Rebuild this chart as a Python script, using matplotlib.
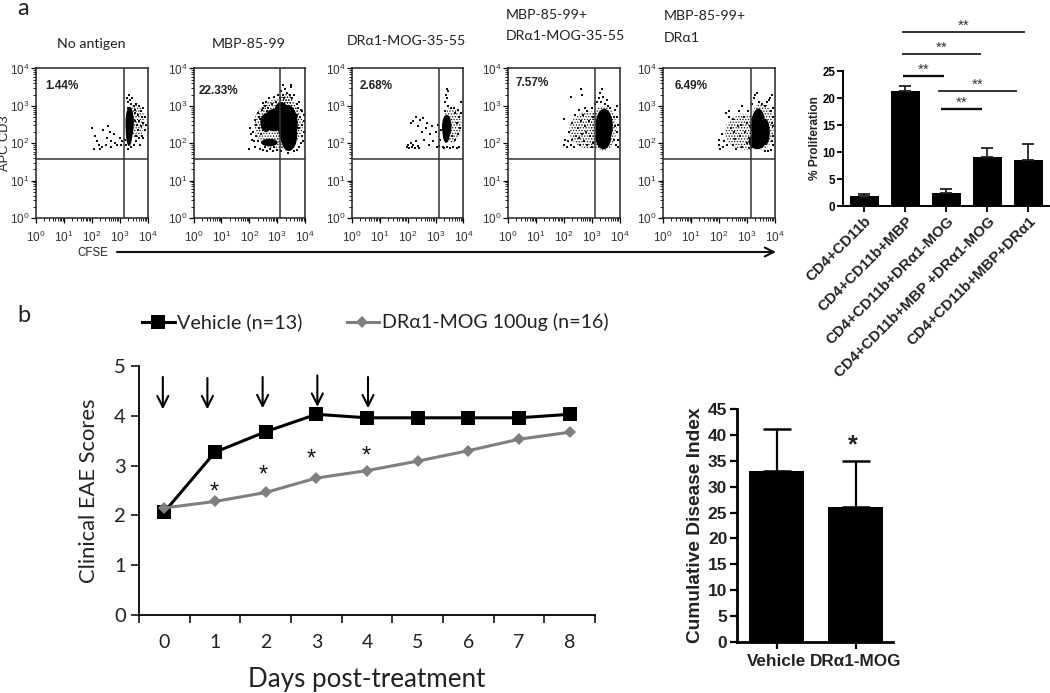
import matplotlib
matplotlib.use("Agg")
import matplotlib.pyplot as plt
from matplotlib.patches import Ellipse
from matplotlib.transforms import ScaledTranslation

W, H = 1050, 693
SANS = "Liberation Sans"
HUM = "Lato"
plt.rcParams["hatch.linewidth"] = 0.6

# ---------- panel a: flow plots (values are log10 decades)
flow_titles = ["No antigen", "MBP-85-99", "DR\u03b11-MOG-35-55",
               "MBP-85-99+\nDR\u03b11-MOG-35-55", "MBP-85-99+\nDR\u03b11"]
flow_pcts = ["1.44%", "22.33%", "2.68%", "7.57%", "6.49%"]
gate_x = [3.14, 3.12, 3.13, 3.13, 3.15]
gate_y = 1.58

# ellipse x, y, width, height, solid (1) or stippled (0)
core_1 = [(3.36, 2.55, 0.30, 0.85, 1), (3.34, 2.35, 0.24, 0.85, 1), (3.58, 2.6, 0.62, 0.95, 0)]
core_2 = [(3.05, 2.5, 1.75, 1.35, 0), (3.35, 2.55, 0.85, 1.5, 0), (3.38, 2.5, 0.72, 1.05, 1), (3.42, 2.22, 0.6, 0.85, 1),
          (2.9, 2.62, 0.75, 0.6, 1), (3.15, 2.85, 0.5, 0.5, 1), (2.6, 2.55, 0.4, 0.5, 1), (2.72, 2.02, 0.6, 0.2, 1),
          (3.3, 3.1, 0.45, 0.5, 0)]
core_3 = [(3.4, 2.45, 0.34, 0.62, 1), (3.38, 2.3, 0.26, 0.58, 1), (3.6, 2.5, 0.65, 0.95, 0)]
core_4 = [(2.95, 2.35, 1.5, 1.0, 0), (3.42, 2.4, 0.95, 1.2, 0), (3.45, 2.45, 0.62, 0.95, 1), (3.42, 2.15, 0.55, 0.62, 1)]
core_5 = [(2.95, 2.3, 1.45, 0.95, 0), (3.55, 2.45, 0.85, 1.25, 0), (3.42, 2.45, 0.52, 0.95, 1),
          (3.38, 2.05, 0.62, 0.42, 1), (3.68, 2.3, 0.3, 0.7, 1)]

dots_1 = [(2.0,2.42),(2.08,1.85),(2.1,2.2),(2.2,2.05),(2.3,1.85),(2.25,1.95),(2.35,1.9),(2.4,2.35),
          (2.5,1.95),(2.55,2.15),(2.6,2.45),(2.7,2.05),(2.7,1.9),(2.8,2.25),(2.85,2.0),(2.65,2.3),
          (2.9,1.95),(3.0,2.15),(3.05,1.95),(3.1,2.05),(3.2,2.1),(3.22,1.95),(3.3,1.85),(3.4,1.9),
          (3.5,1.95),(3.25,3.2),(3.3,3.1),(3.35,3.3),(3.4,3.05),(3.45,3.2),(3.3,2.95),(3.5,3.0),
          (3.38,3.15),(3.6,3.05),(3.55,2.9),(3.7,3.0),(3.75,2.85),(3.85,2.95),(3.65,2.75),(3.8,2.7),
          (3.9,2.7),(3.7,2.6),(3.85,2.55),(3.95,2.5),(3.75,2.45),(3.65,2.35),(3.9,2.35),(3.8,2.2),
          (3.7,2.15),(3.6,2.05),(3.72,1.95),(3.55,2.6),(3.6,2.2),(3.85,2.15),(3.55,2.8),(3.62,2.5)]
dots_2 = [(2.0,1.85),(2.02,2.42),(2.1,2.1),(2.15,2.3),(2.2,1.9),(2.25,2.5),(2.3,2.05),(2.35,2.7),
          (2.4,1.85),(2.42,2.25),(2.45,2.9),(2.5,1.82),(2.5,2.55),(2.55,3.0),(2.6,3.1),(2.65,1.8),
          (2.68,2.95),(2.72,3.2),(2.8,3.05),(2.85,1.8),(2.9,3.25),(2.95,3.1),(3.0,1.82),(3.02,3.3),
          (3.1,3.2),(3.15,1.78),(3.15,3.4),(3.2,3.3),(3.25,3.2),(3.3,3.45),(3.35,3.35),(3.4,1.75),
          (3.45,3.3),(3.5,3.5),(3.55,3.2),(3.6,3.3),(3.7,3.05),(3.75,2.95),(3.8,3.1),(3.85,2.9),
          (3.9,2.85),(3.95,2.75),(3.95,2.6),(3.9,2.5),(3.95,2.3),(3.88,2.2),(3.92,2.05),(3.85,2.0),
          (3.8,1.9),(3.7,1.82),(3.6,1.78),(3.78,2.4),(3.82,2.7),(3.72,2.75),(2.2,2.62),(2.3,2.8),
          (2.4,2.65),(2.48,2.95),(2.55,1.9),(2.62,2.85),(2.75,1.85),(2.9,1.9),(3.0,3.0),(2.25,2.2),
          (2.18,2.05),(2.35,2.42),(2.05,2.25),(2.5,3.08),(3.2,3.55),(3.48,3.55)]
dots_3 = [(1.97,1.9),(2.02,1.95),(2.05,1.87),(2.1,2.0),(2.15,1.9),(2.2,1.95),(2.25,1.87),(2.3,2.05),
          (2.35,1.92),(2.4,1.88),(2.12,2.55),(2.2,2.6),(2.3,2.7),(2.38,2.45),(2.45,2.62),(2.5,2.3),
          (2.55,2.68),(2.6,2.1),(2.65,2.4),(2.7,2.55),(2.75,1.95),(2.8,2.25),(2.88,2.45),(2.92,2.05),
          (3.0,2.3),(3.04,1.9),(3.08,2.5),(3.15,2.1),(3.12,1.92),(3.18,2.35),(3.25,1.9),(3.3,1.87),
          (3.4,1.9),(3.5,1.88),(3.62,1.9),(3.75,1.87),(3.85,1.9),(3.7,2.1),(3.8,2.25),(3.88,2.4),
          (3.6,2.2),(3.75,2.55),(3.85,2.7),(3.9,2.8),(3.7,2.8),(3.8,2.9),(3.55,2.95),(3.65,2.95),
          (3.45,3.0),(3.35,3.1),(3.42,3.2),(3.38,3.3),(3.45,3.4),(3.4,3.45),(3.35,2.85),(3.9,3.1)]
dots_4 = [(2.0,1.95),(2.02,2.65),(2.05,2.1),(2.1,1.9),(2.15,2.05),(2.2,2.3),(2.25,1.95),(2.3,2.1),
          (2.3,2.55),(2.38,1.9),(2.4,2.75),(2.45,2.2),(2.5,2.4),(2.55,2.9),(2.6,1.95),(2.62,2.6),
          (2.65,2.25),(2.7,2.75),(2.72,2.05),(2.75,2.95),(2.78,2.45),(2.85,1.95),(2.85,2.85),(2.9,2.6),
          (2.95,2.2),(3.0,2.95),(3.0,1.9),(3.05,2.7),(2.65,3.3),(2.62,3.45),(2.25,3.25),(3.12,3.05),
          (3.18,3.1),(3.25,3.2),(3.3,3.35),(3.35,3.1),(3.42,3.25),(3.48,3.05),(3.55,3.15),(3.6,3.0),
          (3.38,3.45),(3.65,2.95),(3.85,2.9),(3.9,2.7),(3.95,2.5),(3.92,2.3),(3.95,2.1),(3.88,1.95),
          (3.95,1.9),(3.82,2.1),(3.85,2.45),(3.82,2.7),(3.9,3.0),(3.05,2.0),(2.8,2.3),(2.55,2.15)]
dots_5 = [(2.0,1.95),(2.02,2.1),(2.05,1.85),(2.1,2.25),(2.15,1.9),(2.2,2.05),(2.25,2.8),(2.28,1.95),
          (2.35,2.7),(2.38,2.85),(2.45,2.4),(2.5,2.65),(2.5,1.95),(2.55,2.3),(2.6,2.12),(2.62,1.85),
          (2.7,2.45),(2.72,2.85),(2.75,2.2),(2.8,2.5),(2.85,3.0),(2.85,1.9),(2.9,2.7),(2.95,2.3),
          (3.0,2.55),(3.02,2.0),(3.05,2.85),(3.1,2.15),(3.12,2.45),(3.08,1.88),(3.2,3.05),(3.25,3.2),
          (3.3,3.3),(3.38,3.35),(3.45,3.1),(3.55,3.05),(3.65,3.0),(3.72,3.1),(3.8,3.15),(3.85,3.2),
          (3.92,3.3),(3.95,2.95),(3.95,2.7),(3.95,2.45),(3.95,2.2),(3.93,1.95),(3.88,1.82),(3.78,1.8),
          (3.65,1.78),(3.88,2.85),(3.9,2.55),(3.9,2.05)]
flow_cores = [core_1, core_2, core_3, core_4, core_5]
flow_dots = [dots_1, dots_2, dots_3, dots_4, dots_5]
flow_lefts = [36, 193.5, 352, 508, 663]
flow_title_xy = [(57, 38), (212, 38), (347, 35), (506, 9), (664, 10)]
flow_pct_xy = [(45, 80), (199, 85), (360, 80), (515, 77), (675, 80)]
flow_ticks = [0, 1, 2, 3, 4]
minor_steps = [0.301, 0.477, 0.602, 0.699, 0.778, 0.845, 0.903, 0.954]

# ---------- panel a: proliferation bars
prolif_labels = ["CD4+CD11b", "CD4+CD11b+MBP", "CD4+CD11b+DR\u03b11-MOG",
                 "CD4+CD11b+MBP +DR\u03b11-MOG", "CD4+CD11b+MBP+DR\u03b11"]
prolif_vals = [1.8, 21.3, 2.4, 9.0, 8.5]
prolif_errs = [0.35, 0.9, 0.8, 1.7, 3.0]

# ---------- panel b: EAE scores
days = [0, 1, 2, 3, 4, 5, 6, 7, 8]
vehicle = [2.07, 3.27, 3.68, 4.03, 3.96, 3.96, 3.96, 3.96, 4.03]
dr_mog = [2.15, 2.28, 2.46, 2.75, 2.90, 3.09, 3.30, 3.53, 3.67]
star_days = [1.0, 1.97, 2.92, 4.0]
star_scores = [2.52, 2.87, 3.2, 3.26]
arrow_days = [-0.03, 0.85, 1.94, 3.02, 4.02]
arrow_tops = [4.78, 4.76, 4.78, 4.81, 4.78]
arrow_tips = [4.13, 4.13, 4.15, 4.18, 4.15]

# ---------- panel b: cumulative index
cdi_labels = ["Vehicle", "DR\u03b11-MOG"]
cdi_vals = [33.0, 26.0]
cdi_errs = [8.2, 9.0]

fig = plt.figure(figsize=(W / 100, H / 100), dpi=100)


def axes_px(x0, y0, x1, y1, **kw):
    return fig.add_axes([x0 / W, 1 - y1 / H, (x1 - x0) / W, (y1 - y0) / H], **kw)


ov = axes_px(0, 0, W, H, zorder=10)
ov.set_xlim(0, W)
ov.set_ylim(H, 0)
ov.axis("off")

for i in range(5):
    left = flow_lefts[i]
    ax = axes_px(left, 68.5, left + 111.5, 218)
    ax.set_xlim(0, 4)
    ax.set_ylim(0, 4)
    for el in flow_cores[i]:
        if el[4]:
            ax.add_patch(Ellipse((el[0], el[1]), el[2], el[3], fc="black", ec="none", zorder=2))
        else:
            ax.add_patch(Ellipse((el[0], el[1]), el[2], el[3], fc="none", ec="#111111", lw=0,
                                 hatch="......", zorder=1))
    ax.scatter([d[0] for d in flow_dots[i]], [d[1] for d in flow_dots[i]], s=2.2,
               c="#111111", marker="s", linewidths=0, zorder=2)
    ax.axvline(gate_x[i], color="#333333", lw=1.1, zorder=3)
    ax.axhline(gate_y, color="#333333", lw=1.1, zorder=3)
    labels = [f"$\\mathregular{{10^{{{t}}}}}$" for t in flow_ticks]
    ax.set_xticks(flow_ticks, labels, fontsize=8.5, color="#333333", family=SANS)
    ax.set_yticks(flow_ticks, labels, fontsize=8.5, color="#333333", family=SANS)
    minors = [t + m for t in flow_ticks[:-1] for m in minor_steps]
    ax.set_xticks(minors, minor=True)
    ax.set_yticks(minors, minor=True)
    ax.tick_params(which="major", length=3.5, width=0.9, pad=5)
    ax.tick_params(axis="y", which="major", pad=1)
    ax.tick_params(which="minor", length=2, width=0.6)
    for s in ax.spines.values():
        s.set_linewidth(1.1)
        s.set_color("#222222")
    tx, ty = flow_title_xy[i]
    ov.text(tx, ty, flow_titles[i], family=HUM, fontsize=10.2, color="#222222", va="top", ha="left",
            linespacing=1.95)
    px, py = flow_pct_xy[i]
    ov.text(px, py, flow_pcts[i], family=SANS, fontsize=8.5, weight="bold", color="#222222",
            va="top", ha="left")

ov.text(17, 15, "a", family=HUM, fontsize=17, color="#222222", ha="left", va="baseline")
ov.text(17, 322, "b", family=HUM, fontsize=17, color="#222222", ha="left", va="baseline")
ov.text(5, 143, "APC CD3", family=SANS, fontsize=9.3, rotation=90, ha="center", va="center", color="#222222")
ov.text(77, 253, "CFSE", family=SANS, fontsize=8.3, ha="left", va="center", color="#222222")
ov.annotate("", xy=(776, 252), xytext=(117, 252),
            arrowprops=dict(arrowstyle="->", lw=1.5, color="#111111", mutation_scale=16,
                            shrinkA=0, shrinkB=0))

# proliferation bars
ax = axes_px(843, 71, 1049, 206)
xs = list(range(5))
ax.bar(xs, prolif_vals, width=0.71, color="black",
       yerr=[[0] * 5, prolif_errs], ecolor="#222222",
       error_kw=dict(capsize=4.5, elinewidth=1.3, capthick=1.3))
ax.set_xlim(-0.52, 4.5)
ax.set_ylim(0, 25)
ax.set_yticks([0, 5, 10, 15, 20, 25])
ax.set_xticks(xs)
ax.set_xticklabels(prolif_labels, rotation=45, ha="right", rotation_mode="anchor",
                   family=SANS, fontsize=10.8, weight="bold", color="#222222")
ax.set_ylabel("% Proliferation", family=SANS, fontsize=8.6, weight="bold", color="#222222", labelpad=1)
ax.tick_params(axis="y", length=4, width=1.3, labelsize=8.3, pad=1.5)
ax.tick_params(axis="x", length=4, width=1.3, pad=2)
for t in ax.get_yticklabels():
    t.set_family(SANS)
    t.set_weight("bold")
for s in ("top", "right"):
    ax.spines[s].set_visible(False)
for s in ("left", "bottom"):
    ax.spines[s].set_linewidth(1.4)

sig_x0 = [902, 902, 903, 938, 941]
sig_x1 = [1025, 981, 944, 1017, 982]
sig_y = [32, 54, 76, 91, 109]
sig_lw = [1.2, 1.2, 1.7, 1.2, 1.7]
for a, b, y, lw in zip(sig_x0, sig_x1, sig_y, sig_lw):
    ov.plot([a, b], [y, y], color="#111111", lw=lw, solid_capstyle="butt")
    ov.text((a + b) / 2, y - 6, "**", family=SANS, fontsize=11, ha="center", va="center",
            color="#333333")

# EAE line chart
ax = axes_px(139, 366, 595, 615)
ax.plot(days, vehicle, color="black", lw=2.2, marker="s", ms=9.5, mew=0, label="Vehicle (n=13)")
ax.plot(days, dr_mog, color="#7f7f7f", lw=2.2, marker="D", ms=6.3, mew=0, label="DR\u03b11-MOG 100ug (n=16)")
ax.set_xlim(-0.5, 8.5)
ax.set_ylim(0, 5)
ax.set_yticks(range(6))
ax.set_xticks([d - 0.5 for d in days] + [8.5])
ax.set_xticklabels([])
ax.tick_params(axis="both", which="major", length=6, width=1.1, labelsize=14.5)
for d in days:
    ax.text(d, -0.56, str(d), family=HUM, fontsize=14, ha="center", va="center", color="#222222")
for t in ax.get_yticklabels():
    t.set_family(HUM)
    t.set_color("#222222")
for s in ("top", "right"):
    ax.spines[s].set_visible(False)
for s in ("left", "bottom"):
    ax.spines[s].set_linewidth(1.3)
ax.set_ylabel("Clinical EAE Scores", family=HUM, fontsize=15.8, color="#222222", labelpad=11)
ax.text(4.0, -1.29, "Days post-treatment", family=HUM, fontsize=18.7, ha="center", va="center", color="#222222")
for d, s in zip(star_days, star_scores):
    ax.text(d - 0.02, s - 0.07, "*", family=SANS, fontsize=17, ha="center", va="center", color="#111111")
for d, a, b in zip(arrow_days, arrow_tops, arrow_tips):
    ax.annotate("", xy=(d, b), xytext=(d, a),
                arrowprops=dict(arrowstyle="->", lw=1.5, color="black", mutation_scale=20,
                                shrinkA=0, shrinkB=0), annotation_clip=False)

# manual legend
ov.plot([142, 175], [322, 322], color="black", lw=2.2)
ov.plot([158], [322], color="black", marker="s", ms=9.5, mew=0)
ov.text(177, 322, "Vehicle (n=13)", family=HUM, fontsize=14.2, ha="left", va="center", color="#222222")
ov.plot([347, 379], [322, 322], color="#7f7f7f", lw=2.2)
ov.plot([362], [322], color="#7f7f7f", marker="D", ms=6.3, mew=0)
ov.text(382, 322, "DR\u03b11-MOG 100ug (n=16)", family=HUM, fontsize=14.1, ha="left", va="center", color="#222222")

# cumulative index
ax = axes_px(737, 409, 893, 642)
xs = [0, 1]
ax.bar(xs, cdi_vals, width=0.69, color="black", yerr=[[0, 0], cdi_errs], ecolor="black",
       error_kw=dict(capsize=10, elinewidth=1.6, capthick=1.8))
ax.set_xlim(-0.5, 1.47)
ax.set_ylim(0, 45)
ax.set_yticks(range(0, 46, 5))
ax.set_xticks(xs)
ax.set_xticklabels(cdi_labels, family=SANS, fontsize=12.3, weight="bold", color="#222222")
dr_label = ax.get_xticklabels()[1]
dr_label.set_transform(dr_label.get_transform() + ScaledTranslation(0.08, 0, fig.dpi_scale_trans))
ax.set_ylabel("Cumulative Disease Index", family=SANS, fontsize=13.8, weight="bold", color="#222222", labelpad=3)
ax.tick_params(axis="y", length=5, width=1.6, labelsize=12.5, pad=2)
ax.tick_params(axis="x", length=5, width=1.6, pad=4)
for t in ax.get_yticklabels():
    t.set_family(SANS)
    t.set_weight("bold")
    t.set_color("#222222")
for s in ("top", "right"):
    ax.spines[s].set_visible(False)
for s in ("left", "bottom"):
    ax.spines[s].set_linewidth(2)
ov.text(853, 445, "*", family=SANS, fontsize=18, weight="bold", ha="center", va="center", color="#222222")

fig.savefig("out.png", dpi=100)
